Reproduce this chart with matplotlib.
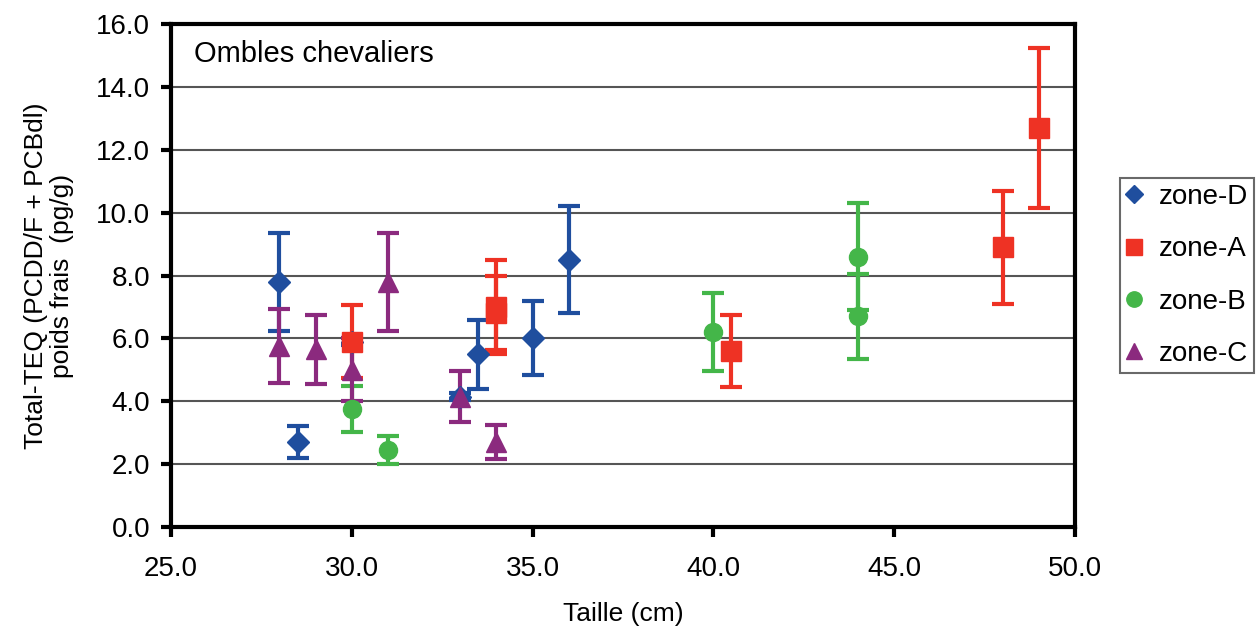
import matplotlib.pyplot as plt

plt.rcParams['font.family'] = ['Liberation Sans', 'DejaVu Sans']

zone_d_x = [28.0, 28.5, 30.0, 33.0, 33.5, 35.0, 36.0]
zone_d_y = [7.8, 2.7, 5.9, 4.15, 5.5, 6.0, 8.5]
zone_d_err = [1.55, 0.5, 0.1, 0.1, 1.1, 1.18, 1.7]

zone_a_x = [30.0, 34.0, 34.0, 40.5, 48.0, 49.0]
zone_a_y = [5.9, 7.0, 6.8, 5.6, 8.9, 12.7]
zone_a_err = [1.15, 1.5, 1.18, 1.15, 1.8, 2.55]

zone_b_x = [30.0, 31.0, 40.0, 44.0, 44.0]
zone_b_y = [3.75, 2.45, 6.2, 8.6, 6.7]
zone_b_err = [0.73, 0.45, 1.23, 1.7, 1.35]

zone_c_x = [28.0, 29.0, 30.0, 31.0, 33.0, 34.0]
zone_c_y = [5.75, 5.65, 5.0, 7.8, 4.15, 2.7]
zone_c_err = [1.18, 1.1, 1.0, 1.55, 0.8, 0.55]

x_ticks = [25.0, 30.0, 35.0, 40.0, 45.0, 50.0]
y_ticks = [0.0, 2.0, 4.0, 6.0, 8.0, 10.0, 12.0, 14.0, 16.0]


def plot_series(ax, x, y, err, color, marker, size, label):
    ax.errorbar(x, y, yerr=err, fmt=marker, color=color, ecolor=color,
                markersize=size, elinewidth=3, capsize=8, capthick=3,
                label=label, zorder=3)


def render():
    fig = plt.figure(figsize=(12.58, 6.32), dpi=100)
    ax = fig.add_axes([171 / 1258, 1 - 527 / 632, (1075 - 171) / 1258, (527 - 24) / 632])

    plot_series(ax, zone_d_x, zone_d_y, zone_d_err, '#1f4e9e', 'D', 11, 'zone-D')
    plot_series(ax, zone_a_x, zone_a_y, zone_a_err, '#ee3224', 's', 14, 'zone-A')
    plot_series(ax, zone_b_x, zone_b_y, zone_b_err, '#44b649', 'o', 13, 'zone-B')
    plot_series(ax, zone_c_x, zone_c_y, zone_c_err, '#8b2a7e', '^', 14, 'zone-C')

    ax.set_xlim(25, 50)
    ax.set_ylim(0, 16)
    ax.set_xticks(x_ticks)
    ax.set_yticks(y_ticks)
    ax.set_xticklabels([f'{v:.1f}' for v in x_ticks])
    ax.set_yticklabels([f'{v:.1f}' for v in y_ticks])
    ax.tick_params(labelsize=20, width=3, length=7, direction='out')
    ax.tick_params(axis='x', pad=14)
    ax.tick_params(axis='y', pad=8)
    ax.grid(axis='y', color='#555555', linewidth=1.5, zorder=0)
    ax.set_axisbelow(True)
    for s in ax.spines.values():
        s.set_linewidth(3)

    ax.set_xlabel('Taille (cm)', fontsize=19, labelpad=14)
    ax.set_ylabel('Total-TEQ (PCDD/F + PCBdl)\npoids frais  (pg/g)', fontsize=19,
                  labelpad=16, linespacing=1.1)
    ax.text(0.025, 0.94, 'Ombles chevaliers', transform=ax.transAxes,
            fontsize=21, va='center', ha='left')

    handles, labels = ax.get_legend_handles_labels()
    handles = [h[0] for h in handles]
    leg = ax.legend(handles, labels, loc='center left', bbox_to_anchor=(1.05, 0.5),
                    fontsize=20, frameon=True, fancybox=False, edgecolor='#444444',
                    handlelength=0.6, handletextpad=0.6, labelspacing=0.95,
                    borderpad=0.2, borderaxespad=0, markerscale=0.85)
    leg.get_frame().set_linewidth(1.5)

    fig.savefig('out.png', dpi=100)


if __name__ == '__main__':
    render()
